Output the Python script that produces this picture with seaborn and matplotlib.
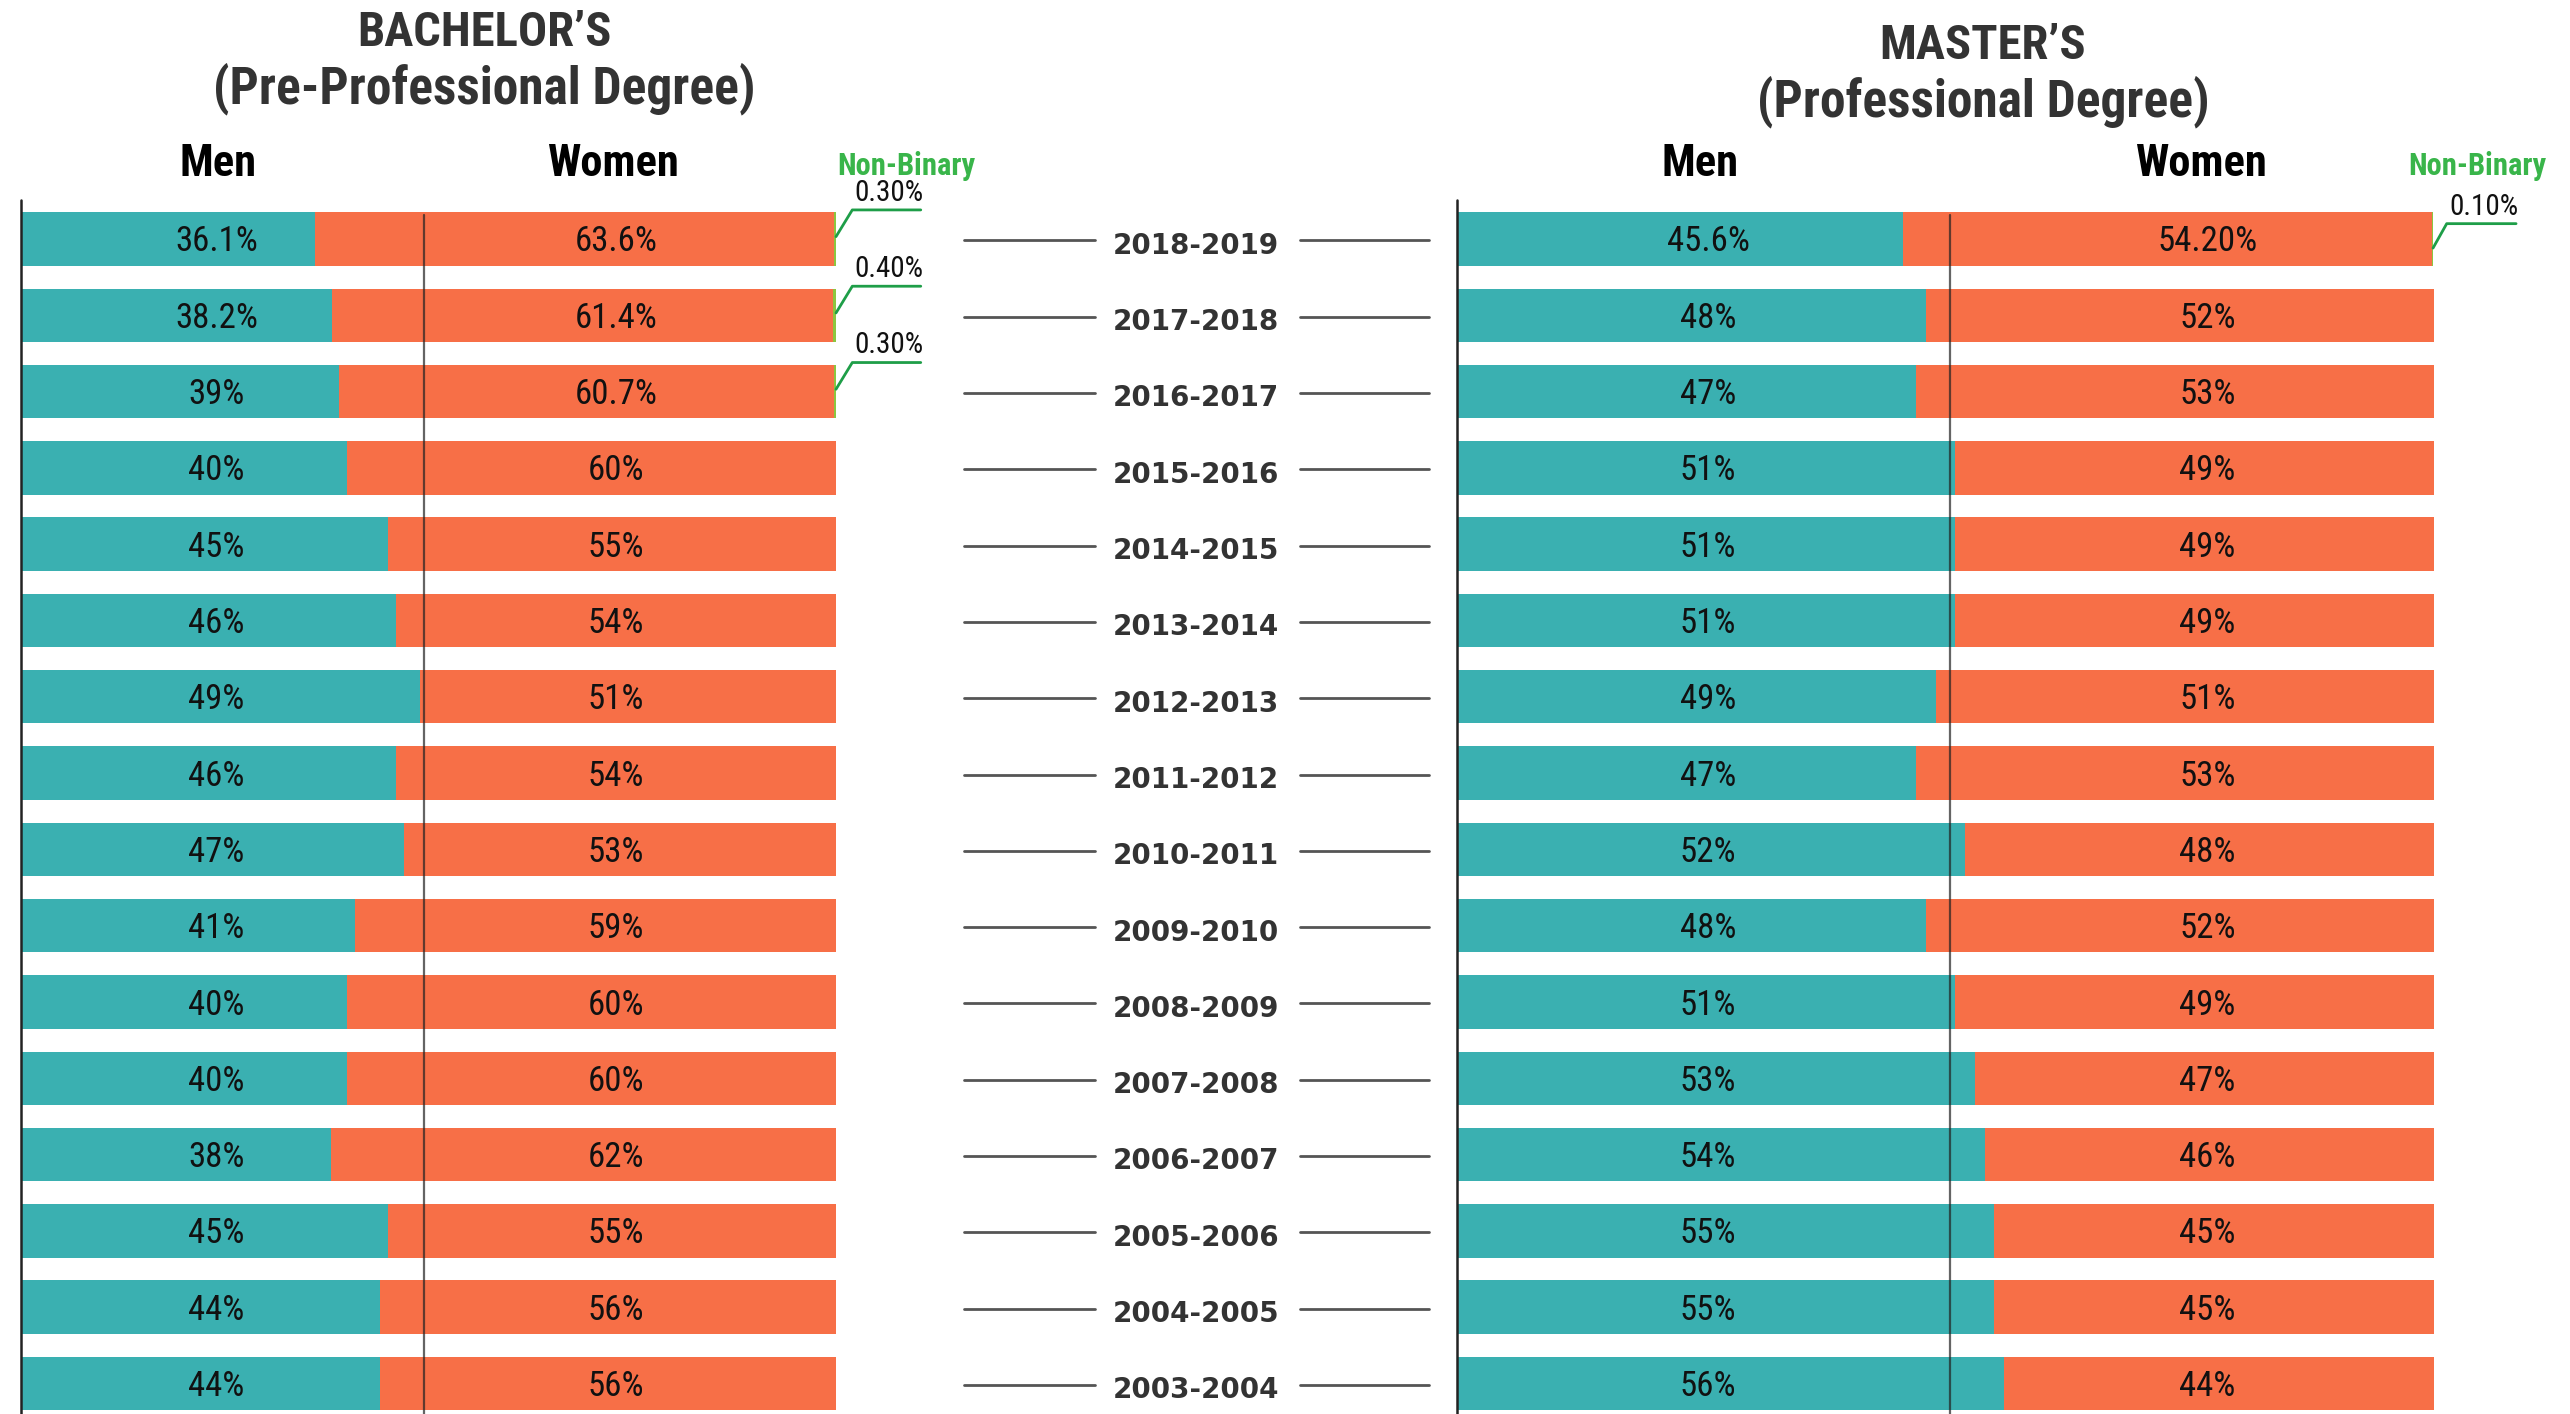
import matplotlib
matplotlib.use('Agg')
import pandas as pd
import matplotlib.pyplot as plt
import matplotlib.transforms as mtransforms
from matplotlib.lines import Line2D
from matplotlib import font_manager
import seaborn as sns

# data, top row first
years = ['2018-2019', '2017-2018', '2016-2017', '2015-2016', '2014-2015', '2013-2014',
         '2012-2013', '2011-2012', '2010-2011', '2009-2010', '2008-2009', '2007-2008',
         '2006-2007', '2005-2006', '2004-2005', '2003-2004']

bach_men = [36.1, 38.2, 39, 40, 45, 46, 49, 46, 47, 41, 40, 40, 38, 45, 44, 44]
bach_women = [63.6, 61.4, 60.7, 60, 55, 54, 51, 54, 53, 59, 60, 60, 62, 55, 56, 56]
bach_nb = [0.3, 0.4, 0.3, 0, 0, 0, 0, 0, 0, 0, 0, 0, 0, 0, 0, 0]
bach_men_lbl = ['36.1%', '38.2%', '39%', '40%', '45%', '46%', '49%', '46%', '47%', '41%',
                '40%', '40%', '38%', '45%', '44%', '44%']
bach_women_lbl = ['63.6%', '61.4%', '60.7%', '60%', '55%', '54%', '51%', '54%', '53%', '59%',
                  '60%', '60%', '62%', '55%', '56%', '56%']
bach_nb_lbl = ['0.30%', '0.40%', '0.30%']

mast_men = [45.6, 48, 47, 51, 51, 51, 49, 47, 52, 48, 51, 53, 54, 55, 55, 56]
mast_women = [54.2, 52, 53, 49, 49, 49, 51, 53, 48, 52, 49, 47, 46, 45, 45, 44]
mast_nb = [0.1, 0, 0, 0, 0, 0, 0, 0, 0, 0, 0, 0, 0, 0, 0, 0]
mast_men_lbl = ['45.6%', '48%', '47%', '51%', '51%', '51%', '49%', '47%', '52%', '48%',
                '51%', '53%', '54%', '55%', '55%', '56%']
mast_women_lbl = ['54.20%', '52%', '53%', '49%', '49%', '49%', '51%', '53%', '48%', '52%',
                  '49%', '47%', '46%', '45%', '45%', '44%']
mast_nb_lbl = ['0.10%']

TEAL = '#3AB0B1'
ORANGE = '#F76F47'
NB_BAR = '#8CC63F'
GREEN = '#39B54A'
LEADER = '#1E9E48'

names = {f.name for f in font_manager.fontManager.ttflist}
NARROW = 'DejaVu Sans'
for cand in ['Liberation Sans Narrow', 'Roboto Condensed', 'Open Sans Condensed']:
    if cand in names:
        NARROW = cand
        break

sns.set_theme(style='white')
plt.rcParams['font.family'] = [NARROW, 'DejaVu Sans']
plt.rcParams['font.stretch'] = 'condensed'

W, H = 2570, 1414
fig = plt.figure(figsize=(W / 100, H / 100), dpi=100)
fig.patch.set_facecolor('white')

YTOP, YBOT = -0.51, 15.4
ax_h = (H - 200) / H


def draw_panel(ax, men, women, nb, men_lbl, women_lbl, nb_lbl, men_x, women_x, divider,
               leader):
    df = pd.DataFrame({'year': years, 'men': men, 'women': women, 'nb': nb})
    df['mw'] = df['men'] + df['women']
    df['total'] = df['mw'] + df['nb']
    sns.barplot(data=df, x='total', y='year', color=NB_BAR, width=0.7, linewidth=0,
                saturation=1, ax=ax)
    sns.barplot(data=df, x='mw', y='year', color=ORANGE, width=0.7, linewidth=0,
                saturation=1, ax=ax)
    sns.barplot(data=df, x='men', y='year', color=TEAL, width=0.7, linewidth=0,
                saturation=1, ax=ax)
    ax.set_xlim(0, 100)
    ax.set_ylim(YBOT, YTOP)
    ax.set_axis_off()
    ax.plot([0, 0], [YBOT, YTOP], color='#222222', lw=1.8, clip_on=False, zorder=6)
    ax.plot([divider, divider], [YBOT, YTOP + 0.2], color='#222222', lw=1.6, alpha=0.7,
            zorder=6)
    for i in range(len(years)):
        ax.text(men_x, i + 0.04, men_lbl[i], ha='center', va='center', fontsize=25,
                color='#111111', zorder=7)
        ax.text(women_x, i + 0.04, women_lbl[i], ha='center', va='center', fontsize=25,
                color='#111111', zorder=7)
    dy0, kink, dy1, line_end = leader
    for i, lbl in enumerate(nb_lbl):
        end = df['total'][i]
        ax.plot([end, end + kink, end + line_end], [i + dy0, i + dy1, i + dy1],
                color=LEADER, lw=2, clip_on=False, zorder=7)
        ax.text(end + kink + 0.3, i + dy1 - 0.04, lbl, ha='left', va='bottom', fontsize=21,
                color='#111111', clip_on=False)


ax1 = fig.add_axes([21 / W, 0, (836 - 21) / W, ax_h])
draw_panel(ax1, bach_men, bach_women, bach_nb, bach_men_lbl, bach_women_lbl, bach_nb_lbl,
           24.0, 73.0, 49.4, (-0.03, 2.0, -0.38, 10.4))

ax2 = fig.add_axes([1457 / W, 0, (2434 - 1457) / W, ax_h])
draw_panel(ax2, mast_men, mast_women, mast_nb, mast_men_lbl, mast_women_lbl, mast_nb_lbl,
           25.7, 76.8, 50.5, (0.12, 1.4, -0.2, 8.5))

# year labels in the middle
blend = mtransforms.blended_transform_factory(fig.transFigure, ax1.transData)
for i, yr in enumerate(years):
    fig.text(1196 / W, i + 0.09, yr, transform=blend, ha='center', va='center',
             fontsize=20, fontweight='bold', color='#333333', family='DejaVu Sans',
             fontstretch='normal')
    fig.add_artist(Line2D([964 / W, 1095 / W], [i + 0.02, i + 0.02], transform=blend,
                          color='#555555', lw=2))
    fig.add_artist(Line2D([1300 / W, 1429 / W], [i + 0.02, i + 0.02], transform=blend,
                          color='#555555', lw=2))


# titles and headers
def ftext(x, y, s, **kw):
    fig.text(x / W, 1 - y / H, s, ha='center', va='center', **kw)


ftext(484, 33, "BACHELOR’S", fontsize=35, fontweight='bold', color='#333333')
ftext(484, 89, '(Pre-Professional Degree)', fontsize=37, fontweight='bold', color='#333333')
ftext(1983, 46, "MASTER’S", fontsize=35, fontweight='bold', color='#333333')
ftext(1983, 102, '(Professional Degree)', fontsize=37, fontweight='bold', color='#333333')

ftext(218, 164, 'Men', fontsize=32, fontweight='heavy', color='black')
ftext(613, 164, 'Women', fontsize=32, fontweight='heavy', color='black')
ftext(906, 166, 'Non-Binary', fontsize=22, fontweight='heavy', color=GREEN)
ftext(1700, 164, 'Men', fontsize=32, fontweight='heavy', color='black')
ftext(2201, 164, 'Women', fontsize=32, fontweight='heavy', color='black')
ftext(2477, 166, 'Non-Binary', fontsize=22, fontweight='heavy', color=GREEN)

fig.savefig('out.png', dpi=100, facecolor='white')
